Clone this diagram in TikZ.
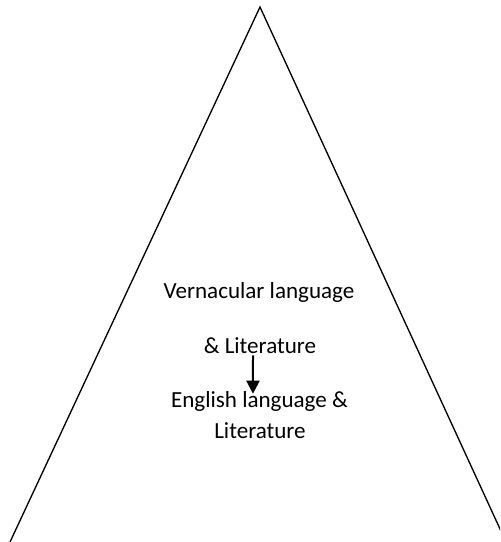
\documentclass[tikz,border=0pt]{standalone}
\usepackage{fontspec}
\setmainfont{Carlito}
\usetikzlibrary{arrows.meta}

\begin{document}
\begin{tikzpicture}[
            x=0.75pt, y=-0.75pt,
            every node/.style={inner sep=0pt, anchor=base, font=\fontsize{17.3}{24}\selectfont},
            side/.style={line width=1pt},
            step arrow/.style={line width=1.5pt, -{Triangle[length=9.75pt, width=9.75pt]}},
            ]
            \useasboundingbox (0,0) rectangle (500,542);
            \clip (0,0) rectangle (500,542);
            % the two sides of the triangle
            \coordinate (apex) at (260,7);
            \coordinate (left) at (10,542);
            \coordinate (right) at (506,542);
            \draw[side] (left) -- (apex) -- (right);
            % texts
            \node (vern) at (259,298) {Vernacular language};
            \node (amp) at (260,353) {\& Literature};
            \node (eng) at (259.5,407) {English language \&};
            \node (lit) at (260,438) {Literature};
            \draw[step arrow] ([xshift=-5.25pt, yshift=-1.5pt]amp.south) -- ([xshift=-4.9pt, yshift=-2.25pt]eng.north);
        \end{tikzpicture}
\end{document}
